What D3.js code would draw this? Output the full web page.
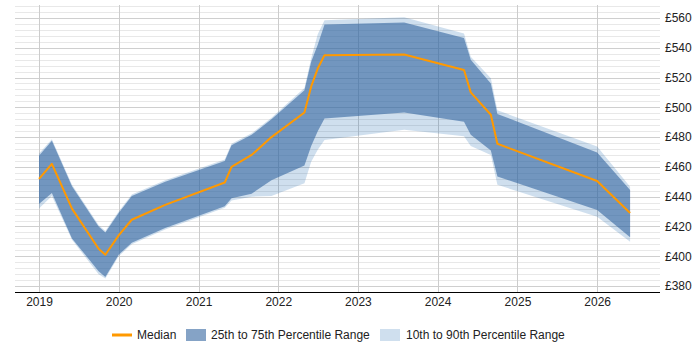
<!DOCTYPE html>
<html>
<head>
<meta charset="utf-8">
<script src="https://cdn.jsdelivr.net/npm/d3@7"></script>
<style>
  html, body { margin: 0; padding: 0; background: #fff; }
  svg { display: block; font-family: "Liberation Sans", Arial, sans-serif; }
</style>
</head>
<body>
<svg id="chart" width="700" height="350"></svg>
<script>
// ---- data ----
const dates = ["2019-01-01","2019-03-01","2019-06-01","2019-10-01","2019-11-01","2020-01-01","2020-03-01","2020-08-01",
  "2021-05-01","2021-06-01","2021-09-01","2021-12-01","2022-05-01","2022-06-01","2022-07-01","2022-08-01",
  "2023-08-01","2024-05-01","2024-06-01","2024-09-01","2024-10-01","2026-01-01","2026-06-01"];
const median = [452, 462, 432, 405, 401, 414, 424.5, 434.5, 449.5, 460, 468, 480, 496.5, 514, 526, 535, 535.5, 525, 510, 495, 475.5, 450.5, 429];
const p25    = [435, 442.5, 412, 390, 386, 401, 409, 419, 433.5, 439, 442, 451, 461, 474, 484, 492.5, 496.5, 490.3, 481.5, 471, 453.5, 431, 412.7];
const p75    = [467.5, 477.5, 447, 420, 416, 429, 440.5, 450, 464, 474.5, 481.5, 492, 511.5, 530.5, 542, 555.5, 557, 546.5, 532, 516, 495.5, 469.6, 444.5];
const p10    = [432, 440.5, 411, 388, 385, 400, 408, 418, 432.5, 437.5, 440, 440.5, 449, 463.5, 471.5, 478, 485, 480.5, 474, 468, 448, 426.6, 409.8];
const p90    = [469, 478.5, 448, 421, 417, 430, 441.5, 451, 465, 475.5, 482.5, 493, 513, 533, 549, 558.5, 560.5, 549.5, 534, 519.5, 498, 473.6, 446.7];
const yTickLabels = [380, 400, 420, 440, 460, 480, 500, 520, 540, 560];
const xTickYears = [2019, 2020, 2021, 2022, 2023, 2024, 2025, 2026];
const legendLabels = ["Median", "25th to 75th Percentile Range", "10th to 90th Percentile Range"];

// ---- layout ----
const svg = d3.select("#chart");
const plotLeft = 15, plotRight = 660, plotTop = 6, plotBottom = 292;
const parse = d3.timeParse("%Y-%m-%d");
const rows = dates.map((d, i) => ({
  date: parse(d), median: median[i], p25: p25[i], p75: p75[i], p10: p10[i], p90: p90[i]
}));

const x = d3.scaleTime()
  .domain([new Date(2018, 8, 13), new Date(2026, 9, 16)])
  .range([plotLeft, plotRight]);
const y = d3.scaleLinear().domain([376, 568]).range([plotBottom, plotTop]);

// minor grid
const minor = d3.range(376, 569, 4);
svg.append("g").selectAll("line").data(minor).join("line")
  .attr("x1", plotLeft).attr("x2", plotRight)
  .attr("y1", d => Math.round(y(d)) + 0.5).attr("y2", d => Math.round(y(d)) + 0.5)
  .attr("stroke", d => (d % 20 === 0) ? "#cfcfcf" : "#e8e8e8")
  .attr("stroke-width", 1);

// vertical grid
const yearDates = xTickYears.map(yr => new Date(yr, 0, 1));
svg.append("g").selectAll("line").data(yearDates).join("line")
  .attr("x1", d => Math.round(x(d)) + 0.5).attr("x2", d => Math.round(x(d)) + 0.5)
  .attr("y1", 5).attr("y2", plotBottom)
  .attr("stroke", "#cccccc").attr("stroke-width", 1);

// bands
const area90 = d3.area().x(d => x(d.date)).y0(d => y(d.p10)).y1(d => y(d.p90));
const area75 = d3.area().x(d => x(d.date)).y0(d => y(d.p25)).y1(d => y(d.p75));
svg.append("path").datum(rows).attr("d", area90)
  .attr("fill", "rgb(15,95,170)").attr("fill-opacity", 0.2);
svg.append("path").datum(rows).attr("d", area75)
  .attr("fill", "rgb(52,102,160)").attr("fill-opacity", 0.6);

// median
const line = d3.line().x(d => x(d.date)).y(d => y(d.median));
svg.append("path").datum(rows).attr("d", line)
  .attr("fill", "none").attr("stroke", "#ff9900").attr("stroke-width", 2)
  .attr("stroke-linejoin", "round");

// x axis
const xAxis = d3.axisBottom(x).tickValues(yearDates).tickFormat(d3.timeFormat("%Y")).tickSize(0).tickPadding(5);
const gx = svg.append("g").attr("transform", `translate(0,${plotBottom})`).call(xAxis);
gx.select(".domain").attr("stroke", "#000").attr("d", `M${plotLeft},0.5H${plotRight}`);
gx.selectAll("text").attr("font-size", 12).attr("fill", "#222").attr("font-family", "Liberation Sans, Arial, sans-serif");

// y axis (right)
const yAxis = d3.axisRight(y).tickValues(yTickLabels).tickFormat(d => "£" + d).tickSize(0).tickPadding(5);
const gy = svg.append("g").attr("transform", `translate(${plotRight},0)`).call(yAxis);
gy.select(".domain").remove();
gy.selectAll("text").attr("font-size", 12).attr("fill", "#222").attr("font-family", "Liberation Sans, Arial, sans-serif");

// legend
const lg = svg.append("g").attr("font-size", 12).attr("fill", "#222");
lg.append("line").attr("x1", 112).attr("x2", 132).attr("y1", 335).attr("y2", 335)
  .attr("stroke", "#ff9900").attr("stroke-width", 3);
lg.append("text").attr("x", 137).attr("y", 339).text(legendLabels[0]);
lg.append("rect").attr("x", 186).attr("y", 329).attr("width", 20).attr("height", 12)
  .attr("fill", "rgb(52,102,160)").attr("fill-opacity", 0.6);
lg.append("text").attr("x", 211).attr("y", 339).text(legendLabels[1]);
lg.append("rect").attr("x", 380).attr("y", 329).attr("width", 20).attr("height", 12)
  .attr("fill", "rgb(15,95,170)").attr("fill-opacity", 0.2);
lg.append("text").attr("x", 406).attr("y", 339).text(legendLabels[2]);
</script>
</body>
</html>
